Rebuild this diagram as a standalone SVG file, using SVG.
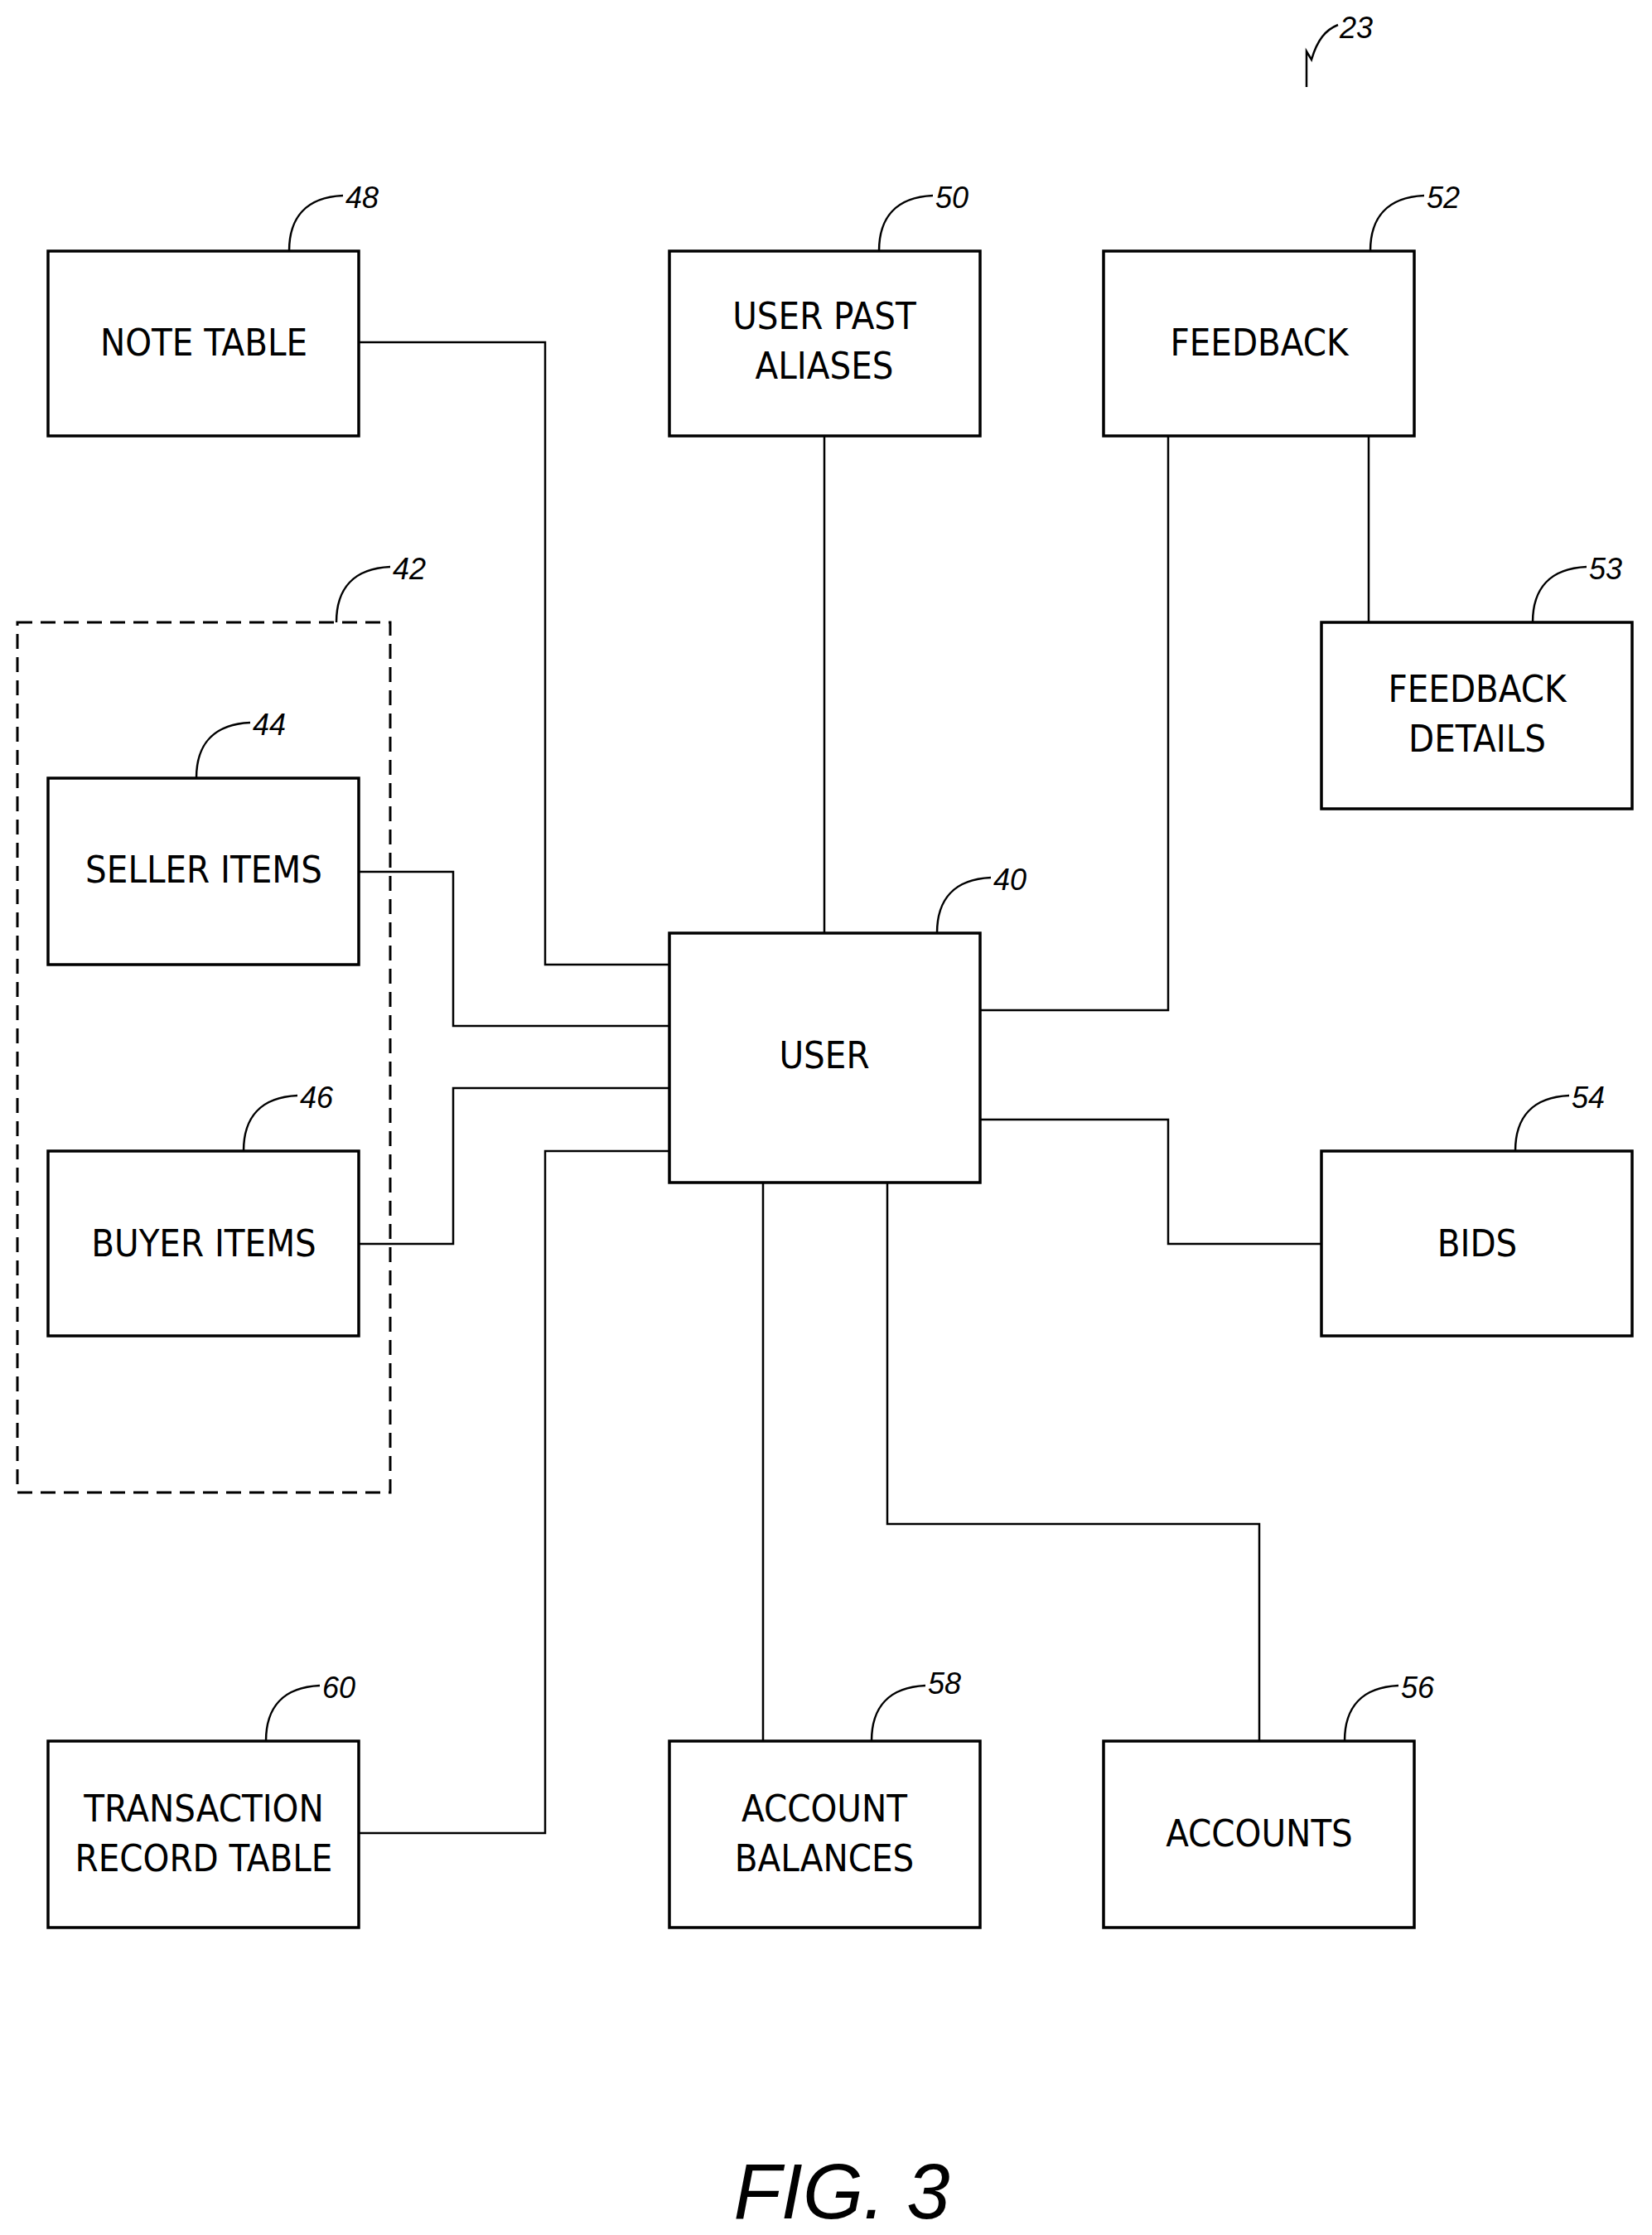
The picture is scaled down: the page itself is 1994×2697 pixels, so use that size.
<svg xmlns="http://www.w3.org/2000/svg" width="1994" height="2697" viewBox="0 0 1994 2697">
<style>
.b{fill:#fff;stroke:#000;stroke-width:3.5}
.c{fill:none;stroke:#000;stroke-width:2.5}
.t{font-family:"Liberation Sans Narrow","DejaVu Sans Condensed","Liberation Sans",sans-serif;font-size:45px;text-anchor:middle;fill:#000}
.n{font-family:"Liberation Sans","DejaVu Sans",sans-serif;font-style:italic;font-size:36px;fill:#000}
.l{fill:none;stroke:#000;stroke-width:2.5}
</style>
<rect width="1994" height="2697" fill="#fff"/>
<g id="connectors">
<path class="c" d="M433 413H658V1164H808"/>
<path class="c" d="M433 1052H547V1238H808"/>
<path class="c" d="M433 1501H547V1313H808"/>
<path class="c" d="M433 2212H658V1389H808"/>
<path class="c" d="M995 526V1126"/>
<path class="c" d="M1410 526V1219H1183"/>
<path class="c" d="M1652 526V751"/>
<path class="c" d="M1183 1351H1410V1501H1595"/>
<path class="c" d="M921 1427V2101"/>
<path class="c" d="M1071 1427V1839H1520V2101"/>
</g>
<g id="group42"><rect x="21" y="751" width="450" height="1050" fill="none" stroke="#000" stroke-width="3" stroke-dasharray="18 10"/>
<path class="l" d="M406 751C406 711 426 686 471 684"/><text class="n" x="474" y="699">42</text></g>
<g id="n48"><rect class="b" x="58" y="303" width="375" height="223"/><text class="t" x="246" y="429">NOTE TABLE</text>
<path class="l" d="M349 303C349 263 369 238 414 236"/><text class="n" x="417" y="251">48</text></g>
<g id="n50"><rect class="b" x="808" y="303" width="375" height="223"/><text class="t" x="995" y="397">USER PAST</text><text class="t" x="995" y="457">ALIASES</text>
<path class="l" d="M1061 303C1061 263 1081 238 1126 236"/><text class="n" x="1129" y="251">50</text></g>
<g id="n52"><rect class="b" x="1332" y="303" width="375" height="223"/><text class="t" x="1520" y="429">FEEDBACK</text>
<path class="l" d="M1654 303C1654 263 1674 238 1719 236"/><text class="n" x="1722" y="251">52</text></g>
<g id="n53"><rect class="b" x="1595" y="751" width="375" height="225"/><text class="t" x="1783" y="847">FEEDBACK</text><text class="t" x="1783" y="907">DETAILS</text>
<path class="l" d="M1850 751C1850 711 1870 686 1915 684"/><text class="n" x="1918" y="699">53</text></g>
<g id="n44"><rect class="b" x="58" y="939" width="375" height="225"/><text class="t" x="246" y="1065">SELLER ITEMS</text>
<path class="l" d="M237 939C237 899 257 874 302 872"/><text class="n" x="305" y="887">44</text></g>
<g id="n46"><rect class="b" x="58" y="1389" width="375" height="223"/><text class="t" x="246" y="1516">BUYER ITEMS</text>
<path class="l" d="M294 1389C294 1349 314 1324 359 1322"/><text class="n" x="362" y="1337">46</text></g>
<g id="n40"><rect class="b" x="808" y="1126" width="375" height="301"/><text class="t" x="995" y="1289">USER</text>
<path class="l" d="M1131 1126C1131 1086 1151 1061 1196 1059"/><text class="n" x="1199" y="1074">40</text></g>
<g id="n54"><rect class="b" x="1595" y="1389" width="375" height="223"/><text class="t" x="1783" y="1516">BIDS</text>
<path class="l" d="M1829 1389C1829 1349 1849 1324 1894 1322"/><text class="n" x="1897" y="1337">54</text></g>
<g id="n60"><rect class="b" x="58" y="2101" width="375" height="225"/><text class="t" x="246" y="2198">TRANSACTION</text><text class="t" x="246" y="2258">RECORD TABLE</text>
<path class="l" d="M321 2101C321 2061 341 2036 386 2034"/><text class="n" x="389" y="2049">60</text></g>
<g id="n58"><rect class="b" x="808" y="2101" width="375" height="225"/><text class="t" x="995" y="2198">ACCOUNT</text><text class="t" x="995" y="2258">BALANCES</text>
<path class="l" d="M1052 2101C1052 2061 1072 2036 1117 2034"/><text class="n" x="1120" y="2044">58</text></g>
<g id="n56"><rect class="b" x="1332" y="2101" width="375" height="225"/><text class="t" x="1520" y="2228">ACCOUNTS</text>
<path class="l" d="M1623 2101C1623 2061 1643 2036 1688 2034"/><text class="n" x="1691" y="2049">56</text></g>
<g id="ref23"><path class="l" d="M1577 105V62L1583 72C1590 48 1600 36 1615 30"/><text class="n" x="1617" y="46">23</text></g>
<text x="1016" y="2677" font-family="Liberation Sans,sans-serif" font-style="italic" font-size="94" text-anchor="middle">FIG. 3</text>
</svg>
